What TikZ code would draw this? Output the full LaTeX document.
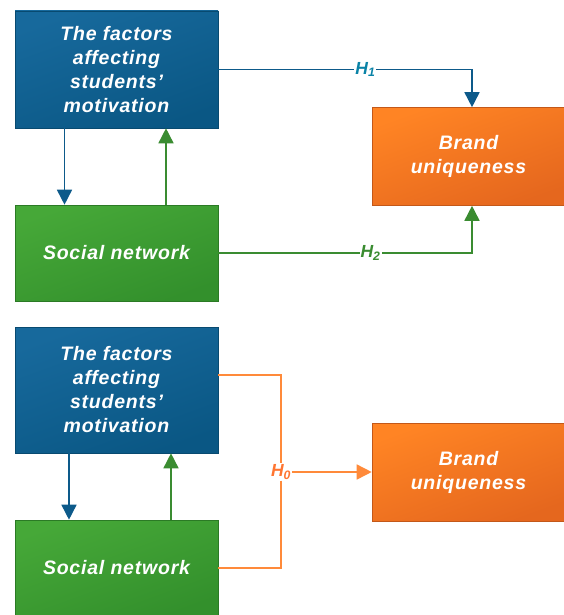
\documentclass[tikz,border=0pt]{standalone}
\usepackage{fontspec}
\setmainfont{Liberation Sans}
\newfontfamily\boxfont{Liberation Sans}[LetterSpace=4]
\usetikzlibrary{arrows.meta}

\definecolor{factop}{HTML}{17699C}
\definecolor{facbot}{HTML}{0A5784}
\definecolor{soctop}{HTML}{46A838}
\definecolor{socbot}{HTML}{33902C}
\definecolor{brtop}{HTML}{FF8424}
\definecolor{brbot}{HTML}{E5671E}
\definecolor{blueline}{HTML}{0D5A8A}
\definecolor{greenline}{HTML}{3A8C31}
\definecolor{orangeline}{HTML}{FF8A3A}

\begin{document}
\begin{tikzpicture}[x=1pt, y=-1pt, >={Triangle[length=15pt,width=15pt]},
    box/.style={align=center, text=white, inner sep=0pt,
        font=\boxfont\fontsize{19.5}{24}\selectfont\bfseries\itshape},
    factor/.style={box, minimum width=203pt, top color=factop, bottom color=facbot,
        shading angle=20, draw=facbot!85!black, line width=0.6pt},
    network/.style={box, minimum width=203pt, minimum height=96pt, top color=soctop,
        bottom color=socbot, shading angle=20, draw=socbot!85!black, line width=0.6pt},
    brand/.style={box, minimum width=193pt, minimum height=98pt, top color=brtop,
        bottom color=brbot, shading angle=20, draw=brbot!85!black, line width=0.6pt},
    hyp/.style={fill=white, inner sep=1pt, font=\fontsize{17.5}{19}\selectfont\bfseries\itshape},
    link/.style={line width=1.6pt}]
    \useasboundingbox (0,0) rectangle (563,615);

    % Separate effects (top)
    \begin{scope}
        \node[factor, minimum height=117pt] (fac1) at (116.5,69.5)
            {The factors\\affecting\\students’\\motivation};
        \node[network] (soc1) at (116.5,253) {Social network};
        \node[brand] (brand1) at (468.5,156.5) {Brand\\uniqueness};
        \draw[link, blueline, ->] ([xshift=-52pt]fac1.south) -- ([xshift=-52pt]soc1.north);
        \draw[link, greenline, ->] ([xshift=49.5pt]soc1.north) -- ([xshift=49.5pt]fac1.south);
        \draw[link, blueline, ->] (fac1.east) -| node[hyp, text=blueline!75!cyan, pos=0.29]
            {H\textsubscript{1}} ([xshift=3.5pt]brand1.north);
        \draw[link, greenline, ->] (soc1.east) -| node[hyp, text=greenline, pos=0.3]
            {H\textsubscript{2}} ([xshift=3.5pt]brand1.south);
    \end{scope}

    % Joint effect (bottom)
    \begin{scope}
        \node[factor, minimum height=126pt] (fac2) at (116.5,390)
            {The factors\\affecting\\students’\\motivation};
        \node[network] (soc2) at (116.5,568) {Social network};
        \node[brand] (brand2) at (468.5,472) {Brand\\uniqueness};
        \draw[link, blueline, ->] ([xshift=-47.5pt]fac2.south) -- ([xshift=-47.5pt]soc2.north);
        \draw[link, greenline, ->] ([xshift=54.5pt]soc2.north) -- ([xshift=54.5pt]fac2.south);
        \node[hyp, text=orangeline!85!red] (h0) at (281,472) {H\textsubscript{0}};
        \draw[link, orangeline] ([yshift=15pt]fac2.east) -| (h0.north);
        \draw[link, orangeline] (h0.south) |- (soc2.east);
        \draw[link, orangeline, ->] (h0.east) -- (brand2.west);
    \end{scope}
\end{tikzpicture}
\end{document}
